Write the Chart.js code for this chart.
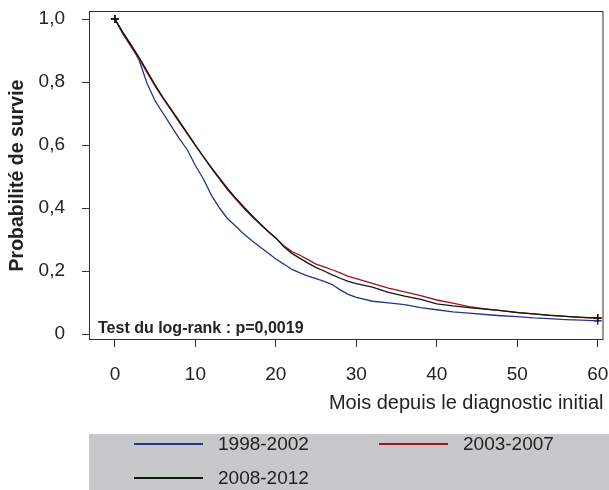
<!DOCTYPE html>
<html>
<head>
<meta charset="utf-8">
<script src="https://cdn.jsdelivr.net/npm/chart.js@4.4.1/dist/chart.umd.min.js"></script>
<style>
  body { margin: 0; background: #fff; font-family: "Liberation Sans", Arial, sans-serif; }
  #wrap { position: relative; width: 609px; height: 490px; overflow: hidden; }
  #legend { position: absolute; left: 89px; top: 434px; width: 520px; height: 56px; background: #c8c8cb; }
  .item { position: absolute; height: 22px; font-size: 19px; line-height: 22px; color: #222; }
  .item i { position: absolute; left: 0; top: 10px; width: 69px; height: 2px; }
  .item span { position: absolute; left: 84px; top: 0; white-space: nowrap; }
</style>
</head>
<body>
<div id="wrap">
  <canvas id="km" width="609" height="490"></canvas>
  <div id="legend"></div>
</div>
<script>
// mois (x) : pas de 1 jusqu'a 30, puis pas de 2
const months = [0,1,2,3,4,5,6,7,8,9,10,11,12,13,14,15,16,17,18,19,20,21,22,23,24,25,26,27,28,29,30,
  32,34,36,38,40,42,44,46,48,50,52,54,56,58,60]

const surv9802 = [1.0,0.957,0.918,0.87,0.795,0.74,0.70,0.66,0.62,0.585,0.535,0.492,0.44,0.40,0.366,0.343,0.318,0.297,0.277,0.258,0.238,0.222,0.205,0.194,0.184,0.176,0.167,0.157,0.14,0.126,0.116,
  0.104,0.099,0.093,0.084,0.077,0.070,0.066,0.062,0.058,0.055,0.051,0.049,0.046,0.044,0.042]
const surv0307 = [1.0,0.952,0.912,0.873,0.83,0.787,0.747,0.71,0.672,0.635,0.598,0.562,0.526,0.492,0.458,0.428,0.40,0.374,0.349,0.326,0.304,0.28,0.262,0.25,0.236,0.222,0.213,0.204,0.194,0.183,0.176,
  0.161,0.146,0.134,0.122,0.108,0.098,0.087,0.080,0.074,0.069,0.064,0.060,0.056,0.053,0.050]
const surv0812 = [1.0,0.957,0.918,0.878,0.835,0.79,0.75,0.713,0.676,0.638,0.60,0.563,0.528,0.495,0.462,0.432,0.404,0.377,0.352,0.327,0.305,0.277,0.256,0.24,0.225,0.211,0.20,0.188,0.177,0.167,0.16,
  0.149,0.132,0.12,0.11,0.096,0.089,0.084,0.079,0.074,0.068,0.064,0.059,0.056,0.053,0.051]

const seriesNames = ['1998-2002', '2003-2007', '2008-2012']
const seriesColors = ['#24358a', '#a3121f', '#0b1a0b']
const xTicks = [0, 10, 20, 30, 40, 50, 60]
const yTicks = [0, 0.2, 0.4, 0.6, 0.8, 1.0]
const yLabels = ['0', '0,2', '0,4', '0,6', '0,8', '1,0']
const testLabel = 'Test du log-rank : p=0,0019'

const FONT = '"Liberation Sans", Arial, sans-serif'
Chart.defaults.font.family = FONT
Chart.defaults.color = '#222'

const toPoints = vals => vals.map((v, i) => ({ x: months[i], y: v }))
// croix de censure seulement au debut et a la fin
const crossAtEnds = ctx => (ctx.dataIndex === 0 || ctx.dataIndex === months.length - 1) ? 4 : 0

function makeSet(i, vals, order) {
  return {
    label: seriesNames[i],
    data: toPoints(vals),
    borderColor: seriesColors[i],
    borderWidth: 1.3,
    tension: 0,
    pointStyle: 'cross',
    pointRadius: crossAtEnds,
    pointBorderColor: seriesColors[i],
    pointBorderWidth: 1.5,
    order: order
  }
}

// pas de marge auto pour les etiquettes qui debordent
const noPad = s => { s.paddingLeft = 0; s.paddingRight = 0; s.paddingTop = 0; s.paddingBottom = 0 }

const framePlugin = {
  id: 'frame',
  afterDraw(chart) {
    const { ctx, chartArea: a } = chart
    ctx.save()
    ctx.strokeStyle = '#333'
    ctx.lineWidth = 1
    ctx.strokeRect(a.left + 0.5, a.top + 0.5, a.right - a.left - 1, a.bottom - a.top - 1)
    ctx.font = 'bold 16px ' + FONT
    ctx.fillStyle = '#222'
    ctx.textBaseline = 'alphabetic'
    ctx.fillText(testLabel, a.left + 9, a.bottom - 7)
    ctx.restore()
  }
}

new Chart(document.getElementById('km'), {
  type: 'line',
  data: {
    datasets: [
      makeSet(0, surv9802, 2),
      makeSet(1, surv0307, 1),
      makeSet(2, surv0812, 0)
    ]
  },
  options: {
    responsive: false,
    animation: false,
    devicePixelRatio: 1,
    layout: { padding: { top: 11, right: 4, left: 0, bottom: 70 } },
    plugins: { legend: { display: false }, tooltip: { enabled: false } },
    scales: {
      x: {
        type: 'linear',
        min: -3.22,
        max: 60.72,
        afterBuildTicks: s => { s.ticks = xTicks.map(v => ({ value: v })) },
        afterFit: s => { s.height = 80; noPad(s) },
        grid: { drawOnChartArea: false, drawTicks: true, tickLength: 7, color: '#333' },
        border: { display: false },
        ticks: { padding: 16, font: { size: 19 }, maxRotation: 0 },
        title: { display: true, text: 'Mois depuis le diagnostic initial', align: 'end', font: { size: 20 }, padding: { top: 6, bottom: 5 } }
      },
      y: {
        min: -0.019,
        max: 1.0254,
        afterBuildTicks: s => { s.ticks = yTicks.map(v => ({ value: v })) },
        afterFit: s => { s.width = 89; noPad(s) },
        grid: { drawOnChartArea: false, drawTicks: true, tickLength: 7, color: '#333' },
        border: { display: false },
        ticks: { padding: 17, font: { size: 19 }, callback: (v, i) => yLabels[i] },
        title: { display: true, text: 'Probabilité de survie', font: { size: 19.5, weight: 'bold' }, padding: { top: 6, bottom: 0 } }
      }
    }
  },
  plugins: [framePlugin]
})

// legende (fond gris, deux colonnes)
const legendPos = [[45, -1], [290, -1], [45, 33]]
const legendEl = document.getElementById('legend')
seriesNames.forEach((name, i) => {
  const d = document.createElement('div')
  d.className = 'item'
  d.style.left = legendPos[i][0] + 'px'
  d.style.top = legendPos[i][1] + 'px'
  d.innerHTML = '<i style="background:' + seriesColors[i] + '"></i><span>' + name + '</span>'
  legendEl.appendChild(d)
})
</script>
</body>
</html>
